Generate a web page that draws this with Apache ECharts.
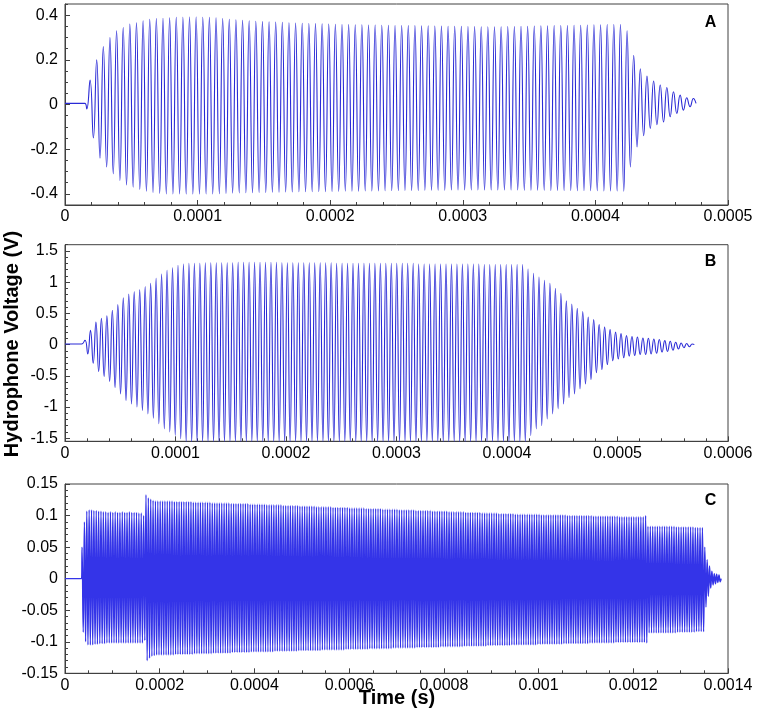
<!DOCTYPE html>
<html><head><meta charset="utf-8">
<script src="https://cdn.jsdelivr.net/npm/echarts@6/dist/echarts.min.js"></script>
<style>html,body{margin:0;padding:0;background:#fff;}#c{width:757px;height:713px;}</style>
</head><body><div id="c"></div>
<script>
// ---------- Panel A (half-cycle extremes, period 5 us) ----------
const aBaseline = 0.005;
const aBaseEnd = 15e-6;
const aStart = 16.4e-6;     // time of first trough
const aPeriod = 5.0e-6;
const aLower = [-0.02,
 -0.15,-0.24,-0.28,-0.31,-0.34,-0.36,-0.37,-0.38,-0.388,-0.394,
 -0.398,-0.40,-0.40,-0.40,-0.401,-0.401,-0.401,-0.40,-0.40,-0.399,
 -0.398,-0.397,-0.396,-0.395,-0.395,-0.394,-0.394,-0.393,-0.393,-0.392,
 -0.392,-0.391,-0.391,-0.39,-0.39,-0.39,-0.389,-0.389,-0.388,-0.388,
 -0.388,-0.387,-0.387,-0.387,-0.386,-0.386,-0.386,-0.385,-0.385,-0.385,
 -0.384,-0.384,-0.384,-0.384,-0.383,-0.383,-0.383,-0.383,-0.383,-0.383,
 -0.383,-0.383,-0.383,-0.383,-0.383,-0.384,-0.384,-0.384,-0.384,-0.385,
 -0.385,-0.385,-0.385,-0.386,-0.386,-0.386,-0.386,-0.387,-0.387,-0.387,
 -0.388,
 -0.28,-0.19,-0.14,-0.107,-0.09,-0.078,-0.055,-0.04,-0.025,-0.01];
const aUpper = [
 0.11,0.20,0.26,0.30,0.33,0.345,0.36,0.366,0.375,0.382,
 0.385,0.386,0.388,0.39,0.391,0.392,0.392,0.391,0.39,0.388,
 0.385,0.382,0.379,0.377,0.375,0.373,0.371,0.37,0.369,0.368,
 0.366,0.365,0.364,0.363,0.362,0.361,0.36,0.359,0.358,0.358,
 0.357,0.357,0.356,0.356,0.355,0.355,0.354,0.354,0.353,0.353,
 0.352,0.352,0.351,0.351,0.35,0.35,0.35,0.349,0.349,0.348,
 0.348,0.348,0.348,0.349,0.349,0.35,0.35,0.351,0.352,0.352,
 0.353,0.354,0.354,0.355,0.355,0.356,0.357,0.357,0.358,0.358,
 0.358,
 0.33,0.22,0.16,0.127,0.105,0.087,0.076,0.057,0.042,0.03,0.027];
const aEnd = 0.005;

// ---------- Panel B (period 4.95 us) ----------
const bBaseline = 0.01;
const bBaseEnd = 15e-6;
const bStart = 18.1e-6;     // time of first peak
const bPeriod = 4.95e-6;
const bUpper = [
 0.07,0.23,0.36,0.42,0.46,0.55,0.64,0.75,0.81,0.85,
 0.88,0.93,0.98,1.06,1.13,1.19,1.23,1.27,1.29,1.30,
 1.30,1.30,1.31,1.31,1.31,1.31,1.31,1.31,1.32,1.32,
 1.32,1.32,1.32,1.32,1.32,1.32,1.31,1.31,1.31,1.31,
 1.31,1.31,1.31,1.31,1.31,1.31,1.30,1.30,1.30,1.30,
 1.30,1.30,1.30,1.30,1.30,1.30,1.30,1.30,1.30,1.30,
 1.30,1.29,1.29,1.29,1.29,1.29,1.29,1.29,1.29,1.29,
 1.29,1.29,1.29,1.28,1.28,1.28,1.28,1.28,1.28,1.28,
 1.28,
 1.21,1.14,1.08,1.03,0.98,0.90,0.82,0.70,0.65,0.58,
 0.53,0.44,0.40,0.32,0.28,0.24,0.20,0.175,0.143,0.13,
 0.12,0.106,0.10,0.09,0.08,0.063,0.053,0.037,0.026,0.016,0.008];
const bLower = [
 -0.15,-0.30,-0.43,-0.51,-0.59,-0.69,-0.79,-0.90,-0.95,-1.0,
 -1.06,-1.11,-1.18,-1.27,-1.35,-1.40,-1.455,-1.51,
 -1.56,-1.56,-1.56,-1.56,-1.56,-1.56,-1.56,-1.56,-1.56,-1.56,
 -1.56,-1.56,-1.56,-1.56,-1.56,-1.56,-1.56,-1.56,-1.56,-1.56,
 -1.56,-1.56,-1.56,-1.56,-1.56,-1.56,-1.56,-1.56,-1.56,-1.56,
 -1.56,-1.56,-1.56,-1.56,-1.56,-1.56,-1.56,-1.56,-1.56,-1.56,
 -1.56,-1.56,-1.56,-1.56,-1.56,-1.56,-1.56,-1.56,-1.56,-1.56,
 -1.56,-1.56,-1.56,-1.56,-1.56,-1.56,-1.56,-1.56,-1.56,-1.56,
 -1.56,-1.56,-1.56,
 -1.46,-1.35,-1.30,-1.19,-1.11,-1.03,-0.95,-0.85,-0.79,-0.71,
 -0.63,-0.56,-0.45,-0.40,-0.32,-0.26,-0.23,-0.21,-0.185,-0.175,
 -0.16,-0.16,-0.15,-0.14,-0.12,-0.11,-0.09,-0.07,-0.05,-0.035];
const bEnd = 0.0;

// ---------- Panel C (period 5 us) ----------
const cBaseline = 0.0;
const cBaseEnd = 35e-6;
const cStart = 36e-6;       // time of first peak
const cPeriod = 5.0e-6;
const cUpper = [
 0.05,0.09,0.107,0.109,0.109,0.108,0.108,0.107,0.107,0.106,
 0.106,0.105,0.106,0.105,0.106,0.105,0.105,0.106,0.105,0.105,
 0.106,0.105,0.105,0.105,0.104,0.104,0.1,
 0.133,0.128,0.126,0.124,
 0.123,0.123,0.123,0.123,0.123,0.123,0.123,0.123,
 0.122,0.122,0.122,0.122,0.122,0.122,0.122,0.122,
 0.121,0.121,0.121,0.121,0.121,0.121,0.121,0.121,
 0.120,0.120,0.120,0.120,0.120,0.120,0.120,0.120,
 0.119,0.119,0.119,0.119,0.119,0.119,0.119,0.119,
 0.118,0.118,0.118,0.118,0.118,0.118,0.118,
 0.117,0.117,0.117,0.117,0.117,0.117,0.117,
 0.116,0.116,0.116,0.116,0.116,0.116,0.116,
 0.115,0.115,0.115,0.115,0.115,0.115,0.115,
 0.114,0.114,0.114,0.114,0.114,0.114,0.114,
 0.113,0.113,0.113,0.113,0.113,0.113,0.113,
 0.112,0.112,0.112,0.112,0.112,0.112,0.112,
 0.111,0.111,0.111,0.111,0.111,0.111,0.111,
 0.110,0.110,0.110,0.110,0.110,0.110,0.110,
 0.109,0.109,0.109,0.109,0.109,0.109,0.109,
 0.108,0.108,0.108,0.108,0.108,0.108,0.108,
 0.107,0.107,0.107,0.107,0.107,0.107,0.107,
 0.106,0.106,0.106,0.106,0.106,0.106,0.106,
 0.105,0.105,0.105,0.105,0.105,0.105,0.105,
 0.104,0.104,0.104,0.104,0.104,0.104,0.104,
 0.103,0.103,0.103,0.103,0.103,0.103,0.103,
 0.102,0.102,0.102,0.102,0.102,0.102,0.102,0.102,0.102,0.102,0.102,
 0.101,0.101,0.101,0.101,0.101,0.101,0.101,0.101,0.101,0.101,0.101,
 0.100,0.100,0.100,0.100,0.100,0.100,0.100,0.100,0.100,0.100,0.100,
 0.099,0.099,0.099,0.099,0.099,0.099,0.099,0.099,0.099,0.099,0.099,
 0.098,0.098,0.098,0.098,0.098,0.098,0.098,0.098,0.098,0.098,0.098,
 0.1,
 0.083,0.083,0.083,0.083,0.083,0.083,0.083,0.083,0.083,0.083,0.083,0.083,
 0.082,0.082,0.082,0.082,0.082,0.082,0.082,0.082,
 0.081,0.081,0.081,0.081,
 0.05,0.03,0.02,0.012,0.008,0.007,0.006];
const cLower = [
 -0.085,-0.1,-0.105,-0.105,-0.105,-0.104,-0.104,-0.103,-0.103,-0.103,
 -0.102,-0.102,-0.102,-0.102,-0.102,-0.102,-0.102,-0.102,
 -0.102,-0.102,-0.102,-0.102,-0.102,-0.102,-0.102,-0.102,
 -0.098,
 -0.13,-0.126,-0.123,-0.122,
 -0.121,-0.121,-0.121,-0.121,-0.121,-0.121,-0.121,-0.121,
 -0.120,-0.120,-0.120,-0.120,-0.120,-0.120,-0.120,-0.120,
 -0.119,-0.119,-0.119,-0.119,-0.119,-0.119,-0.119,-0.119,
 -0.118,-0.118,-0.118,-0.118,-0.118,-0.118,-0.118,-0.118,
 -0.117,-0.117,-0.117,-0.117,-0.117,-0.117,-0.117,-0.117,
 -0.116,-0.116,-0.116,-0.116,-0.116,-0.116,-0.116,-0.116,-0.116,-0.116,
 -0.115,-0.115,-0.115,-0.115,-0.115,-0.115,-0.115,-0.115,-0.115,-0.115,
 -0.114,-0.114,-0.114,-0.114,-0.114,-0.114,-0.114,-0.114,-0.114,-0.114,
 -0.113,-0.113,-0.113,-0.113,-0.113,-0.113,-0.113,-0.113,-0.113,-0.113,
 -0.112,-0.112,-0.112,-0.112,-0.112,-0.112,-0.112,-0.112,-0.112,-0.112,
 -0.111,-0.111,-0.111,-0.111,-0.111,-0.111,-0.111,-0.111,-0.111,-0.111,
 -0.110,-0.110,-0.110,-0.110,-0.110,-0.110,-0.110,-0.110,-0.110,-0.110,
 -0.109,-0.109,-0.109,-0.109,-0.109,-0.109,-0.109,-0.109,-0.109,-0.109,
 -0.108,-0.108,-0.108,-0.108,-0.108,-0.108,-0.108,-0.108,-0.108,-0.108,
 -0.107,-0.107,-0.107,-0.107,-0.107,-0.107,-0.107,-0.107,-0.107,-0.107,
 -0.106,-0.106,-0.106,-0.106,-0.106,-0.106,-0.106,-0.106,-0.106,-0.106,
 -0.105,-0.105,-0.105,-0.105,-0.105,-0.105,-0.105,-0.105,-0.105,-0.105,-0.105,
 -0.104,-0.104,-0.104,-0.104,-0.104,-0.104,-0.104,-0.104,-0.104,-0.104,-0.104,
 -0.103,-0.103,-0.103,-0.103,-0.103,-0.103,-0.103,-0.103,-0.103,-0.103,-0.103,
 -0.102,-0.102,-0.102,-0.102,-0.102,-0.102,-0.102,-0.102,-0.102,-0.102,-0.102,
 -0.101,-0.101,-0.101,-0.101,-0.101,-0.101,-0.101,-0.101,-0.101,-0.101,-0.101,-0.101,-0.101,
 -0.102,
 -0.086,-0.086,-0.086,-0.086,-0.086,-0.086,-0.086,-0.086,-0.086,-0.086,-0.086,-0.086,
 -0.085,-0.085,-0.085,-0.085,-0.085,-0.085,-0.085,-0.085,
 -0.084,-0.084,-0.084,-0.084,
 -0.045,-0.028,-0.015,-0.01,-0.008,-0.006,-0.005];
const cEnd = 0.0;

// ---------- Axis ticks ----------
const aTicksX = ['0','0.0001','0.0002','0.0003','0.0004','0.0005'];
const aTicksY = ['-0.4','-0.2','0','0.2','0.4'];
const bTicksX = ['0','0.0001','0.0002','0.0003','0.0004','0.0005','0.0006'];
const bTicksY = ['-1.5','-1','-0.5','0','0.5','1','1.5'];
const cTicksX = ['0','0.0002','0.0004','0.0006','0.0008','0.001','0.0012','0.0014'];
const cTicksY = ['-0.15','-0.1','-0.05','0','0.05','0.1','0.15'];
const panelLetters = ['A','B','C'];
const yTitle = 'Hydrophone Voltage (V)';
const xTitle = 'Time (s)';

function buildWave(baseVal, baseEnd, t0, period, first, second, endVal) {
  const pts = [[0, baseVal], [baseEnd, baseVal]];
  const n = Math.max(first.length, second.length);
  for (let k = 0; k < n; k++) {
    if (k < first.length) pts.push([t0 + k * period, first[k]]);
    if (k < second.length) pts.push([t0 + period / 2 + k * period, second[k]]);
  }
  const lastT = pts[pts.length - 1][0];
  pts.push([lastT + period * 0.4, endVal]);
  return pts;
}
function minorVals(min, max, step) {
  const out = [];
  for (let i = Math.ceil(min / step - 1e-9); i <= Math.floor(max / step + 1e-9); i++) out.push(+(i * step).toPrecision(10));
  return out;
}

const FONT = 'Liberation Sans, Arial, sans-serif';
const AX = '#404040';
const LINE = '#2a2ad6';

const panels = [
  {top: 4, height: 201, xMax: 0.0005, yMin: -0.45, yMax: 0.45, xT: aTicksX, yT: aTicksY, xMinor: 0.00002, yMinor: 0.05,
   data: buildWave(aBaseline, aBaseEnd, aStart, aPeriod, aLower, aUpper, aEnd), ly: 22.5, lw: 1.1, col: LINE},
  {top: 244.7, height: 196.6, xMax: 0.0006, yMin: -1.55, yMax: 1.6, xT: bTicksX, yT: bTicksY, xMinor: 0.00002, yMinor: 0.1,
   data: buildWave(bBaseline, bBaseEnd, bStart, bPeriod, bUpper, bLower, bEnd), ly: 261.7, lw: 1.1, col: LINE},
  {top: 484, height: 189.3, xMax: 0.0014, yMin: -0.15, yMax: 0.15, xT: cTicksX, yT: cTicksY, xMinor: 0.00005, yMinor: 0.01,
   data: buildWave(cBaseline, cBaseEnd, cStart, cPeriod, cUpper, cLower, cEnd), ly: 501, lw: 1.4, col: '#3434e8'}
];

const grid = [], xAxis = [], yAxis = [], series = [], graphic = [];
panels.forEach((p, i) => {
  grid.push({left: 65, top: p.top, width: 663, height: p.height, show: true, borderColor: AX, borderWidth: 1, backgroundColor: 'transparent'});
  const xv = p.xT.map(Number), yv = p.yT.map(Number);
  const fmt = labels => v => { const j = labels.findIndex(s => Math.abs(Number(s) - v) < 1e-12); return j >= 0 ? labels[j] : ''; };
  xAxis.push({type: 'value', gridIndex: i, min: 0, max: p.xMax, position: 'bottom',
    axisLine: {show: true, onZero: false, lineStyle: {color: AX, width: 1}},
    axisTick: {show: true, inside: true, length: 5, customValues: xv, lineStyle: {color: AX}},
    axisLabel: {show: true, customValues: xv, formatter: fmt(p.xT), margin: 4, fontSize: 16, color: '#000', fontFamily: FONT},
    splitLine: {show: false}});
  xAxis.push({type: 'value', gridIndex: i, min: 0, max: p.xMax, position: 'bottom',
    axisLine: {show: false, onZero: false}, axisLabel: {show: false}, splitLine: {show: false},
    axisTick: {show: true, inside: true, length: 3, customValues: minorVals(0, p.xMax, p.xMinor), lineStyle: {color: AX}}});
  yAxis.push({type: 'value', gridIndex: i, min: p.yMin, max: p.yMax, position: 'left',
    axisLine: {show: true, onZero: false, lineStyle: {color: AX, width: 1}},
    axisTick: {show: true, inside: true, length: 5, customValues: yv, lineStyle: {color: AX}},
    axisLabel: {show: true, customValues: yv, formatter: fmt(p.yT), margin: 7, fontSize: 16, color: '#000', fontFamily: FONT},
    splitLine: {show: false}});
  yAxis.push({type: 'value', gridIndex: i, min: p.yMin, max: p.yMax, position: 'left',
    axisLine: {show: false, onZero: false}, axisLabel: {show: false}, splitLine: {show: false},
    axisTick: {show: true, inside: true, length: 3, customValues: minorVals(p.yMin, p.yMax, p.yMinor), lineStyle: {color: AX}}});
  series.push({type: 'line', xAxisIndex: 2 * i, yAxisIndex: 2 * i, data: p.data, showSymbol: false, symbol: 'none',
    smooth: 0.5, lineStyle: {color: p.col, width: p.lw}, clip: true, silent: true, animation: false});
  graphic.push({type: 'text', x: 710.5, y: p.ly, style: {text: panelLetters[i], font: 'bold 16px ' + FONT, fill: '#000', align: 'center', verticalAlign: 'middle', textAlign: 'center', textVerticalAlign: 'middle'}});
});
graphic.push({type: 'text', x: 397, y: 698, style: {text: xTitle, font: 'bold 20px ' + FONT, fill: '#000', align: 'center', verticalAlign: 'middle', textAlign: 'center', textVerticalAlign: 'middle'}});
graphic.push({type: 'text', x: 12, y: 344, rotation: Math.PI / 2, style: {text: yTitle, font: 'bold 20px ' + FONT, fill: '#000', align: 'center', verticalAlign: 'middle', textAlign: 'center', textVerticalAlign: 'middle'}});

const chart = echarts.init(document.getElementById('c'), null, {renderer: 'canvas'});
chart.setOption({animation: false, backgroundColor: '#fff', grid, xAxis, yAxis, series, graphic});
</script></body></html>
